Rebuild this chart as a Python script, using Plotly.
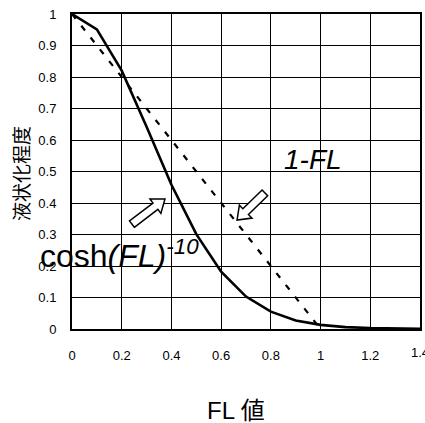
import plotly.graph_objects as go
import math

# ---- data ----
fl_values = [0.0, 0.1, 0.2, 0.3, 0.4, 0.5, 0.6, 0.7, 0.8, 0.9, 1.0, 1.1, 1.2, 1.3, 1.4]
cosh_curve = [1.0, 0.951, 0.820, 0.642, 0.458, 0.301, 0.182, 0.103, 0.055, 0.027, 0.013, 0.006, 0.003, 0.001, 0.0005]
linear_x = [0.0, 1.0]
linear_y = [1.0, 0.0]

x_tick_vals = [0, 0.2, 0.4, 0.6, 0.8, 1.0, 1.2, 1.4]
x_tick_text = ["0", "0.2", "0.4", "0.6", "0.8", "1", "1.2", "1.4"]
y_tick_vals = [0, 0.1, 0.2, 0.3, 0.4, 0.5, 0.6, 0.7, 0.8, 0.9, 1.0]
y_tick_text = ["0", "0.1", "0.2", "0.3", "0.4", "0.5", "0.6", "0.7", "0.8", "0.9", "1"]

# arrow annotations (tail, tip) in data coordinates
arrows = [((0.241, 0.333), (0.374, 0.413)),
          ((0.776, 0.432), (0.664, 0.346))]

# ---- layout geometry ----
W, H = 425, 423
ML, MR, MT, MB = 72, 5, 14, 94
PW = W - ML - MR
PH = H - MT - MB
XMAX, YMAX = 1.4, 1.0
SX = PW / XMAX
SY = PH / YMAX

FONT = "Liberation Sans, Arial, Noto Sans CJK JP"


def px_to_paper(px, py):
    return (px - ML) / PW, (MT + PH - py) / PH


fig = go.Figure()
fig.add_trace(go.Scatter(x=linear_x, y=linear_y, mode="lines",
                         line=dict(color="black", width=2.2, dash="6px,9px"),
                         showlegend=False, hoverinfo="skip"))
fig.add_trace(go.Scatter(x=fl_values, y=cosh_curve, mode="lines",
                         line=dict(color="black", width=2.6),
                         showlegend=False, hoverinfo="skip"))


def arrow_path(tail, tip, w=4.0, h=9.0, hl=12.0):
    tx, ty = tail[0] * SX, -tail[1] * SY
    px, py = tip[0] * SX, -tip[1] * SY
    dx, dy = px - tx, py - ty
    L = math.hypot(dx, dy)
    ux, uy = dx / L, dy / L
    nx, ny = -uy, ux
    bx, by = px - ux * hl, py - uy * hl
    pts = [(tx + nx * w, ty + ny * w), (bx + nx * w, by + ny * w), (bx + nx * h, by + ny * h),
           (px, py), (bx - nx * h, by - ny * h), (bx - nx * w, by - ny * w), (tx - nx * w, ty - ny * w)]
    return "M " + " L ".join(f"{x / SX:.5f},{-y / SY:.5f}" for x, y in pts) + " Z"


for tail, tip in arrows:
    fig.add_shape(type="path", path=arrow_path(tail, tip), xref="x", yref="y",
                  line=dict(color="black", width=1.5), fillcolor="white", layer="above")

fig.add_annotation(x=0.969, y=0.537, xref="x", yref="y", text="<i>1-FL</i>",
                   showarrow=False, font=dict(family=FONT, size=28, color="black"))

cx, cy = px_to_paper(38, 254)
fig.add_annotation(x=cx, y=cy, xref="paper", yref="paper", xanchor="left", yanchor="middle",
                   text="cosh<i>(FL)</i><sup><i>-10</i></sup>",
                   showarrow=False, font=dict(family=FONT, size=32, color="black"))

tx_, ty_ = px_to_paper(20, 173)
fig.add_annotation(x=tx_, y=ty_, xref="paper", yref="paper", xanchor="center", yanchor="middle",
                   text="液状化程度", textangle=-90, showarrow=False,
                   font=dict(family="Noto Sans CJK JP", size=19, color="black"))

fx, fy = px_to_paper(236, 410)
fig.add_annotation(x=fx, y=fy, xref="paper", yref="paper", xanchor="center", yanchor="middle",
                   text="FL 値", showarrow=False,
                   font=dict(family=FONT, size=24, color="black"))

# last x tick label (plotly hides labels overflowing the page edge; reference shows it cut)
lx, ly = px_to_paper(ML + PW, 352)
fig.add_annotation(x=lx, y=ly, xref="paper", yref="paper", xanchor="center", yanchor="middle",
                   text=x_tick_text[-1], showarrow=False,
                   font=dict(family=FONT, size=13, color="black"))

axis_common = dict(showgrid=True, gridcolor="black", gridwidth=1.3,
                   showline=True, linecolor="black", linewidth=2, mirror=True,
                   zeroline=False, ticks="", automargin=False,
                   tickfont=dict(family=FONT, size=13, color="black"))

fig.update_xaxes(range=[0, XMAX], tickmode="array", tickvals=x_tick_vals[:-1], ticktext=x_tick_text[:-1],
                 ticklabelstandoff=13, **axis_common)
fig.update_yaxes(range=[0, YMAX], tickmode="array", tickvals=y_tick_vals, ticktext=y_tick_text,
                 ticklabelstandoff=11, **axis_common)

fig.update_layout(width=W, height=H, margin=dict(l=ML, r=MR, t=MT, b=MB, pad=0),
                  paper_bgcolor="white", plot_bgcolor="white", showlegend=False)

fig.write_html("out.html")
